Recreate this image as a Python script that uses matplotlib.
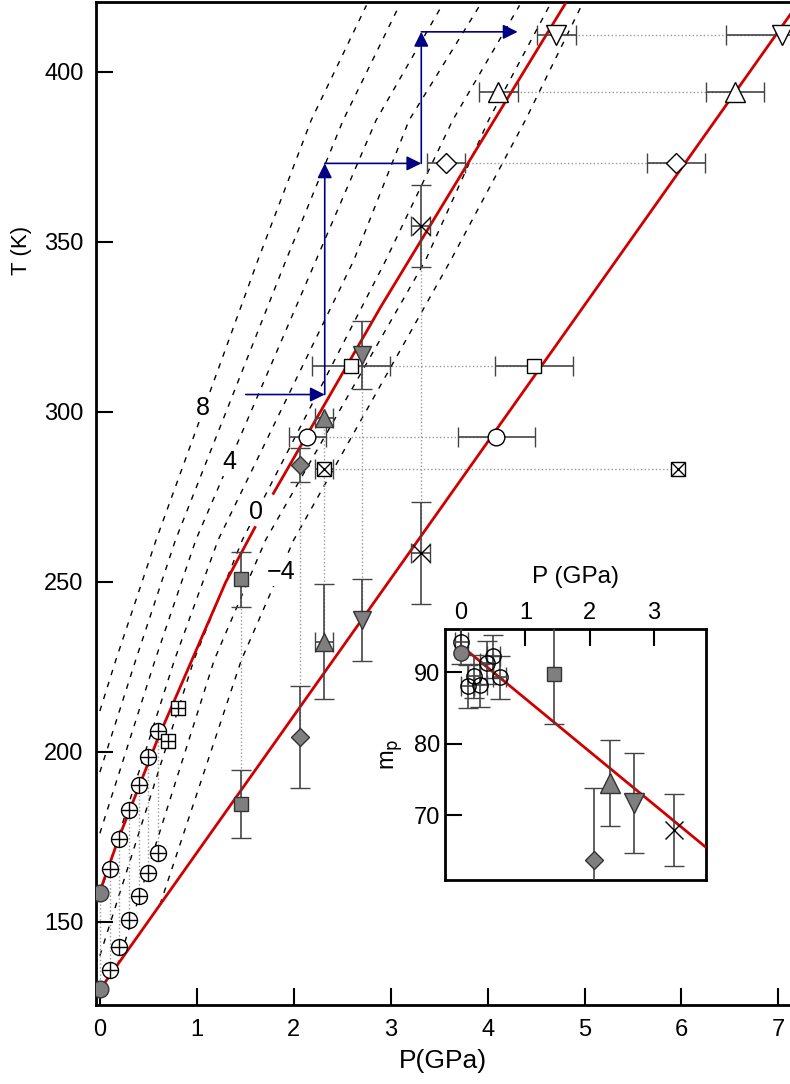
import numpy as np
import matplotlib
matplotlib.use("Agg")
import matplotlib.pyplot as plt

plt.rcParams['font.family'] = ['Liberation Sans', 'DejaVu Sans']
plt.rcParams['font.size'] = 15

# ---- main panel data (P in GPa, T in K) ----
# dashed isolines, labelled 8 .. -4
iso_levels = ['8', '6', '4', '2', '0', '-2', '-4']
iso_P = [
    [0.0, 0.165, 0.58, 1.63, 2.18, 2.75],
    [0.0, 0.37, 0.78, 1.92, 2.51, 3.09],
    [0.0, 0.57, 0.99, 2.23, 2.85, 3.53],
    [0.0, 0.77, 1.22, 2.62, 3.19, 3.92],
    [0.0, 0.97, 1.47, 2.95, 3.64, 4.33],
    [0.18, 1.18, 1.71, 3.36, 4.01, 4.64],
    [0.62, 1.46, 2.00, 3.62, 4.39, 4.97],
]
iso_T = [
    [212, 227.0, 262.3, 344.6, 385.8, 419.6],
    [194, 227.0, 262.3, 344.6, 385.8, 419.6],
    [176, 227.0, 262.3, 344.6, 385.8, 419.6],
    [158, 227.0, 262.3, 344.6, 385.8, 419.6],
    [140, 227.0, 262.3, 344.6, 385.8, 419.6],
    [137, 227.0, 262.3, 344.6, 385.8, 419.6],
    [155, 227.0, 262.3, 344.6, 385.8, 419.6],
]
label_txt = ['8', '4', '0', '\u22124']
label_P = [1.062, 1.34, 1.608, 1.87]
label_T = [301.0, 285.2, 270.5, 252.8]

# red lines
red1_P = [0.02, 0.2, 0.6, 1.3, 1.6]
red1_T = [160.5, 175.0, 204.0, 250.0, 266.0]
red2_P = [1.79, 2.90, 3.88, 4.80]
red2_T = [276.0, 331.0, 377.0, 420.0]
red3_P = [0.0, 7.2]
red3_T = [130.0, 420.0]

# arrows (start P, start T, end P, end T)
arr_P0 = [1.505, 2.32, 2.32, 3.316, 3.316]
arr_T0 = [305.1, 305.1, 373.1, 373.1, 411.8]
arr_P1 = [2.32, 2.32, 3.316, 3.316, 4.31]
arr_T1 = [305.1, 373.1, 373.1, 411.8, 411.8]

# circled-plus points, two branches
cp_P = [0.1, 0.2, 0.3, 0.4, 0.5, 0.6]
cp_T_hi = [165.4, 174.3, 182.8, 190.1, 198.4, 206.2]
cp_T_lo = [135.8, 142.6, 150.5, 157.6, 164.2, 170.3]
g0_P = [0.0, 0.0]
g0_T = [158.5, 130.1]
bp_P = [0.70, 0.81]
bp_T = [203.2, 212.9]

# filled gray series: upper / lower T at same P
gs_P = 1.46; gs_T = [250.7, 184.6]; gs_err = [8, 10]
gd_P = 2.06; gd_T = [284.3, 204.4]; gd_err = [5, 15]
gu_P = 2.31; gu_T = [298.1, 232.4]; gu_err = [0, 17]
gv_P = 2.70; gv_T = [316.7, 238.7]; gv_err = [10, 12]
gx_P = 3.31; gx_T = [354.7, 258.6]; gx_err = [12, 15]

# open series: left / right P at same T
oc_T = 292.5; oc_P = [2.14, 4.09]; oc_err = [0.19, 0.4]
ob_T = 283.2; ob_P = [2.31, 5.96]; ob_err = [0.095, 0.0]
os_T = 313.5; os_P = [2.59, 4.48]; os_err = [0.4, 0.4]
od_T = 373.1; od_P = [3.57, 5.94]; od_err = [0.2, 0.3]
ou_T = 394.2; ou_P = [4.11, 6.55]; ou_err = [0.2, 0.3]
ov_T = 411.0; ov_P = [4.71, 7.04]; ov_err = [0.2, 0.58]

# ---- inset data ----
in_c_P = [0.0, 0.1, 0.2, 0.3, 0.4, 0.5, 0.6]
in_c_m = [94.2, 88.0, 89.4, 88.2, 91.3, 92.2, 89.3]
in_g0 = (0.0, 92.7)
in_sq = (1.45, 89.7, 7)
in_di = (2.06, 63.75, 10)
in_tu = (2.31, 74.5, 6)
in_tv = (2.69, 71.7, 7)
in_x = (3.31, 67.95, 5)
in_red_P = [0.0, 4.0]
in_red_m = [93.7, 64.1]

gray = '#7f7f7f'
edge = '#333333'
ecol = '#444444'
dotc = '#999999'
red = '#d00000'
navy = '#000080'

fig = plt.figure(figsize=(7.9, 10.84), dpi=100)
ax = fig.add_axes([0.1215, 0.0729, 0.8785, 0.925])

for P, T in zip(iso_P, iso_T):
    ax.plot(P, T, color='k', lw=1, ls=(0, (4, 5)), zorder=1)
for s, P, T in zip(label_txt, label_P, label_T):
    ax.text(P, T, s, ha='center', va='center', fontsize=18, zorder=2,
            bbox=dict(fc='white', ec='none', pad=1))

# dotted connectors
for P, hi, lo in zip(cp_P, cp_T_hi, cp_T_lo):
    ax.plot([P, P], [lo, hi], ls=':', color=dotc, lw=1, zorder=1)
ax.plot(g0_P, g0_T, ls=':', color=dotc, lw=1, zorder=1)
for P, T in [(gs_P, gs_T), (gd_P, gd_T), (gu_P, gu_T), (gv_P, gv_T), (gx_P, gx_T)]:
    ax.plot([P, P], T, ls=':', color=dotc, lw=1, zorder=1)
for T, P in [(oc_T, oc_P), (ob_T, ob_P), (os_T, os_P), (od_T, od_P), (ou_T, ou_P), (ov_T, ov_P)]:
    ax.plot(P, [T, T], ls=':', color=dotc, lw=1, zorder=1)

ax.plot(red1_P, red1_T, color=red, lw=2, zorder=3)
ax.plot(red2_P, red2_T, color=red, lw=2, zorder=3)
ax.plot(red3_P, red3_T, color=red, lw=2, zorder=3)

eb = dict(ecolor=ecol, elinewidth=1.2, capsize=7, capthick=1.2, ls='none', zorder=4)

# circled plus
for T in (cp_T_hi, cp_T_lo):
    ax.plot(cp_P, T, 'o', ms=11.5, mfc='white', mec='k', mew=1, zorder=4)
    ax.plot(cp_P, T, '+', ms=11.5, mec='k', mew=1, zorder=4)
ax.plot(g0_P, g0_T, 'o', ms=12, mfc=gray, mec=edge, mew=1, zorder=4)
ax.plot(bp_P, bp_T, 's', ms=10.5, mfc='white', mec='k', mew=1, zorder=4)
ax.plot(bp_P, bp_T, '+', ms=10.5, mec='k', mew=1, zorder=4)

for P, Ts, errs, mk, ms in [(gs_P, gs_T, gs_err, 's', 10), (gd_P, gd_T, gd_err, 'D', 9.5),
                             (gu_P, gu_T, gu_err, '^', 13), (gv_P, gv_T, gv_err, 'v', 13)]:
    for T, e in zip(Ts, errs):
        xe = 0.095 if mk == '^' else None
        ax.errorbar(P, T, yerr=e if e else None, xerr=xe, fmt=mk, ms=ms,
                    mfc=gray, mec=edge, mew=1, **eb)
for T, e in zip(gx_T, gx_err):
    ax.errorbar(gx_P, T, yerr=e, xerr=0.095, fmt='x', ms=13, mec='k', mew=1, **eb)

opens = [(oc_T, oc_P, oc_err, 'o', 12), (ob_T, ob_P, ob_err, 's', 10.5),
         (os_T, os_P, os_err, 's', 10.5), (od_T, od_P, od_err, 'D', 10),
         (ou_T, ou_P, ou_err, '^', 15), (ov_T, ov_P, ov_err, 'v', 15)]
for T, Ps, errs, mk, ms in opens:
    for P, e in zip(Ps, errs):
        ax.errorbar(P, T, xerr=e if e else None, fmt=mk, ms=ms,
                    mfc='white', mec='k', mew=1, **eb)
ax.plot(ob_P, [ob_T, ob_T], 'x', ms=10.5, mec='k', mew=1, ls='none', zorder=5)

for p0, t0, p1, t1 in zip(arr_P0, arr_T0, arr_P1, arr_T1):
    ax.annotate('', xy=(p1, t1), xytext=(p0, t0),
                arrowprops=dict(arrowstyle='-|>', color=navy, lw=1.2,
                                mutation_scale=22, shrinkA=0, shrinkB=0),
                zorder=6)

ax.set_xlim(-0.04, 7.12)
ax.set_ylim(125.5, 420.5)
ax.set_xticks(range(8))
ax.set_yticks([150, 200, 250, 300, 350, 400])
ax.spines['right'].set_visible(False)
for s in ('left', 'bottom', 'top'):
    ax.spines[s].set_linewidth(2)
ax.tick_params(direction='in', length=12, width=1.5, top=False, right=False)
ax.tick_params(axis='y', labelsize=17, pad=9)
ax.tick_params(axis='x', labelsize=17, pad=10)
ax.set_xlabel('P(GPa)', fontsize=19, labelpad=6)
ax.set_ylabel('T (K)', fontsize=16)
ax.yaxis.set_label_coords(-0.092, 0.753)

# ---- inset ----
ai = fig.add_axes([0.5633, 0.1882, 0.3304, 0.2313])
ai.plot(in_red_P, in_red_m, color=red, lw=2, zorder=3)
ai.errorbar(in_c_P, in_c_m, yerr=3, xerr=0.1, fmt='o', ms=11, mfc='none', mec='k',
            mew=1, **eb)
ai.plot(*in_g0, 'o', ms=11, mfc=gray, mec=edge, mew=1, zorder=5)
for (P, m, e), mk, ms in [(in_sq, 's', 10), (in_di, 'D', 9), (in_tu, '^', 14), (in_tv, 'v', 14)]:
    ai.errorbar(P, m, yerr=e, fmt=mk, ms=ms, mfc=gray, mec=edge, mew=1, **eb)
ai.errorbar(in_x[0], in_x[1], yerr=in_x[2], fmt='x', ms=13, mec='k', mew=1, **eb)
ai.set_xlim(-0.25, 3.81)
ai.set_ylim(60.95, 96.0)
ai.set_xticks([0, 1, 2, 3])
ai.set_yticks([70, 80, 90])
ai.xaxis.tick_top()
ai.xaxis.set_label_position('top')
for s in ai.spines.values():
    s.set_linewidth(2)
ai.tick_params(direction='in', length=12, width=1.5, labelsize=17, right=False, bottom=False)
ai.set_xlabel('P (GPa)', fontsize=17.5, labelpad=14)
ai.set_ylabel('m$_\\mathrm{p}$', fontsize=17, labelpad=6)

fig.savefig('out.png', dpi=100)
